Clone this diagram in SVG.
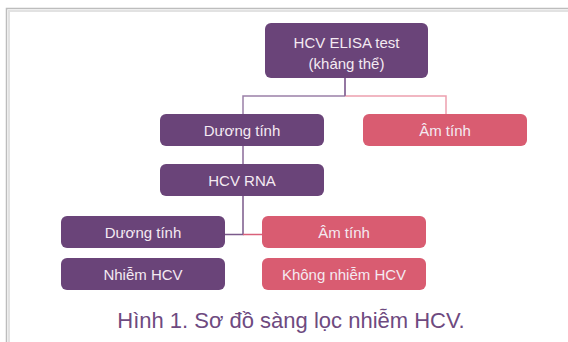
<svg xmlns="http://www.w3.org/2000/svg" width="568" height="342" viewBox="0 0 568 342">
<style>
.p{fill:#6a4479}
.k{fill:#d95c71}
.t{font-family:"Liberation Sans",Arial,sans-serif;font-size:15px;fill:#f4eaf2;text-anchor:middle}
.cp{stroke:#9a80a8;stroke-width:1.5;fill:none}
.ck{stroke:#eda0ae;stroke-width:1.5;fill:none}
.cap{font-family:"Liberation Sans",Arial,sans-serif;font-size:22px;fill:#6e4a80;text-anchor:middle}
</style>
<rect width="568" height="342" fill="#ffffff"/>
<g id="frame" fill="none">
<path d="M6.5 342 V8.5 H568" stroke="#bdbdbd" stroke-width="1.5"/>
<path d="M9 342 V11 H568" stroke="#e2e2e2" stroke-width="2"/>
</g>
<g id="connectors">
<path class="cp" d="M345 77 V96 H345"/>
<path class="cp" d="M345 96 H243 V114"/>
<path class="ck" d="M345 96 H446 V114"/>
<path d="M345 77 V96" stroke="#8a6a98" stroke-width="1.5"/>
<path d="M243 146 V164" stroke="#8a6a98" stroke-width="1.5"/>
<path d="M243 196 V234.5 H225" stroke="#7b5a8b" stroke-width="1.5" fill="none"/>
<path d="M243 234.5 H262" stroke="#d9607a" stroke-width="1.5"/>
</g>
<g id="elisa">
<rect class="p" x="265" y="23" width="163" height="55" rx="6"/>
<text class="t" x="346.5" y="48">HCV ELISA test</text>
<text class="t" x="346.5" y="69">(kháng thể)</text>
</g>
<g id="duong1">
<rect class="p" x="160" y="114" width="164" height="32" rx="6"/>
<text class="t" x="242" y="135.5">Dương tính</text>
</g>
<g id="am1">
<rect class="k" x="363" y="114" width="164" height="32" rx="6"/>
<text class="t" x="445" y="135.5">Âm tính</text>
</g>
<g id="rna">
<rect class="p" x="160" y="164" width="164" height="32" rx="6"/>
<text class="t" x="242" y="185.5">HCV RNA</text>
</g>
<g id="duong2">
<rect class="p" x="61" y="216" width="164" height="32" rx="6"/>
<text class="t" x="143" y="237.5">Dương tính</text>
</g>
<g id="am2">
<rect class="k" x="262" y="216" width="164" height="32" rx="6"/>
<text class="t" x="344" y="237.5">Âm tính</text>
</g>
<g id="nhiem">
<rect class="p" x="61" y="258" width="164" height="32" rx="6"/>
<text class="t" x="143" y="279.5">Nhiễm HCV</text>
</g>
<g id="khong">
<rect class="k" x="262" y="258" width="164" height="32" rx="6"/>
<text class="t" x="344" y="279.5">Không nhiễm HCV</text>
</g>
<text class="cap" x="291" y="328">Hình 1. Sơ đồ sàng lọc nhiễm HCV.</text>
</svg>
